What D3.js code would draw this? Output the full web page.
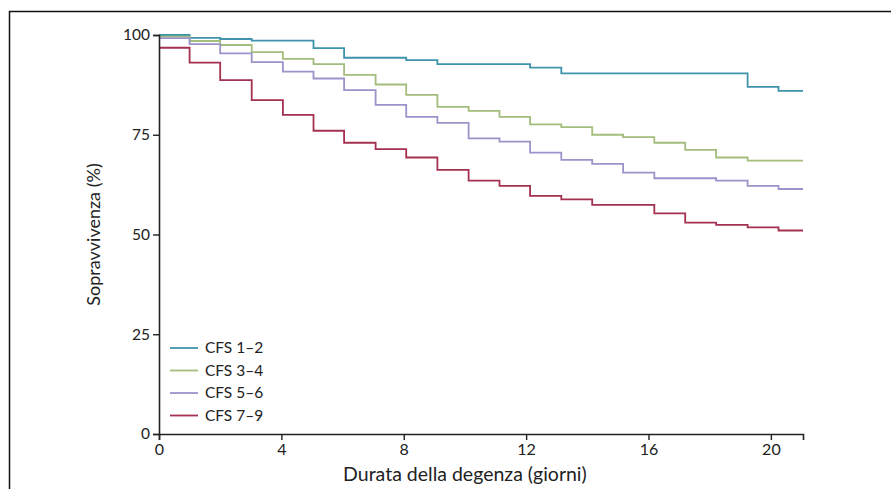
<!DOCTYPE html>
<html>
<head>
<meta charset="utf-8">
<script src="https://cdn.jsdelivr.net/npm/d3@7"></script>
<style>
  body { margin: 0; background: #fff; }
  text { font-family: Lato, "Open Sans", sans-serif; fill: #222; }
</style>
</head>
<body>
<div id="chart"></div>
<script>
// step times (days), last one is the end of follow-up
var stepDays = [0, 1.0, 2.0, 3.03, 4.05, 5.05, 6.05, 7.08, 8.08, 9.1, 10.12, 11.13, 12.13, 13.15, 14.16, 15.17, 16.19, 17.2, 18.21, 19.24, 20.25, 21.05];

var cfs12 = [100, 99.3, 99.0, 98.6, 98.6, 96.7, 94.3, 94.3, 93.7, 92.7, 92.7, 92.7, 91.8, 90.4, 90.4, 90.4, 90.4, 90.4, 90.4, 87.0, 86.0, 86.0];
var cfs34 = [99.6, 98.5, 97.5, 95.7, 94.0, 92.7, 90.0, 87.6, 85.0, 82.0, 81.0, 79.5, 77.6, 76.9, 75.0, 74.4, 73.0, 71.2, 69.3, 68.5, 68.5, 68.5];
var cfs56 = [99.2, 97.7, 95.4, 93.2, 90.8, 89.1, 86.2, 82.5, 79.5, 78.0, 74.1, 73.3, 70.5, 68.7, 67.7, 65.5, 64.1, 64.1, 63.5, 62.2, 61.4, 61.4];
var cfs79 = [96.8, 93.1, 88.7, 83.7, 80.0, 76.0, 73.0, 71.4, 69.3, 66.2, 63.5, 62.2, 59.7, 58.8, 57.4, 57.4, 55.3, 53.0, 52.4, 51.8, 51.0, 51.0];

var seriesNames = ["CFS 1\u20132", "CFS 3\u20134", "CFS 5\u20136", "CFS 7\u20139"];
var seriesColors = ["#3f93ab", "#a3bd7c", "#9b93c9", "#a3314f"];
var seriesValues = [cfs12, cfs34, cfs56, cfs79];

var xTicks = [0, 4, 8, 12, 16, 20];
var yTicks = [0, 25, 50, 75, 100];

var W = 891, H = 489;
var margin = { top: 35, right: 88, bottom: 55, left: 159 },
	width = W - margin.left - margin.right,
	height = H - margin.top - margin.bottom;

var root = d3.select("#chart")
	.append("svg")
	.attr("width", W)
	.attr("height", H);

// outer frame (top and left edges only visible)
root.append("path")
	.attr("d", "M9.5," + H + "V11.5H" + W)
	.attr("fill", "none")
	.attr("stroke", "#111")
	.attr("stroke-width", 1.5);

var svg = root.append("g")
	.attr("transform", "translate(" + margin.left + "," + margin.top + ")");

var x = d3.scaleLinear().domain([0, 21.05]).range([0, width]);
var y = d3.scaleLinear().domain([0, 100]).range([height, 0]);

// curves
var line = d3.line()
	.curve(d3.curveStepAfter)
	.x(d => x(d[0]))
	.y(d => y(d[1]));

seriesValues.forEach((vals, i) => {
	svg.append("path")
		.datum(stepDays.map((t, k) => [t, vals[k]]))
		.attr("fill", "none")
		.attr("stroke", seriesColors[i])
		.attr("stroke-width", 1.8)
		.attr("d", line);
});

// X axis
var gx = svg.append("g")
	.attr("transform", "translate(0," + height + ")")
	.call(d3.axisBottom(x).tickValues(xTicks).tickSizeOuter(0).tickSize(6).tickPadding(4));
gx.selectAll("text").style("font-size", "16px");

// Y axis
var gy = svg.append("g")
	.call(d3.axisLeft(y).tickValues(yTicks).tickSizeOuter(0).tickSize(6).tickPadding(3));
gy.selectAll("text").style("font-size", "15.5px");

[gx, gy].forEach(g => {
	g.select(".domain").attr("stroke", "#222").attr("stroke-width", 1.6);
	g.selectAll(".tick line").attr("stroke", "#222").attr("stroke-width", 1.4);
	g.selectAll("text").attr("fill", "#222");
});

// axis titles
svg.append("text")
	.attr("x", x(10.0))
	.attr("y", height + 47)
	.attr("text-anchor", "middle")
	.style("font-size", "19.5px")
	.text("Durata della degenza (giorni)");

svg.append("text")
	.attr("transform", "translate(-59," + (height / 2) + ")rotate(-90)")
	.attr("text-anchor", "middle")
	.style("font-size", "18px")
	.text("Sopravvivenza (%)");

// legend
var legend = svg.append("g").attr("transform", "translate(11," + (height - 86) + ")");
seriesNames.forEach((name, i) => {
	var row = legend.append("g").attr("transform", "translate(0," + (i * 22.5) + ")");
	row.append("line")
		.attr("x1", 0).attr("x2", 28)
		.attr("stroke", seriesColors[i])
		.attr("stroke-width", 1.8);
	row.append("text")
		.attr("x", 35)
		.attr("dy", "0.35em")
		.style("font-size", "15.5px")
		.text(name);
});
</script>
</body>
</html>
